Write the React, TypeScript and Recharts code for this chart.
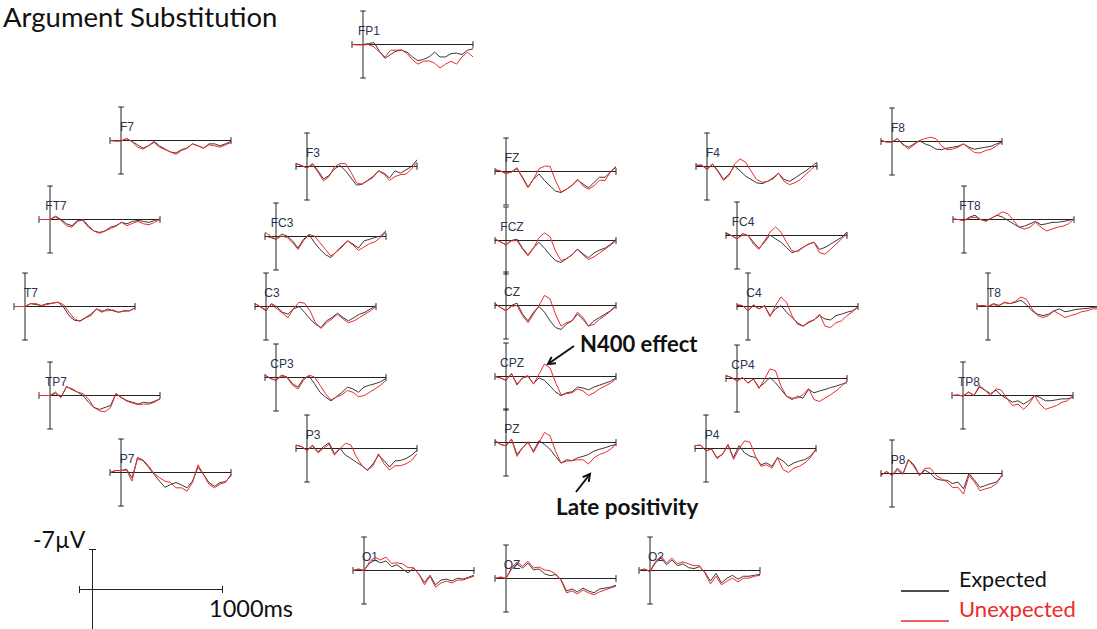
import React from 'react'
import { LineChart, Line, XAxis, YAxis, ReferenceLine } from 'recharts'

// sample times (ms) shared by every channel
const times = [-100, -50, 0, 50, 100, 150, 200, 250, 300, 350, 400, 450, 500, 550, 600, 650, 700, 750, 800, 850, 900, 950, 1000]

// amplitudes in µV (negative plotted up)
const fp1Expected = [0, 0, 0, -0.2, -0.4, 1.4, 2.9, 2.1, 1.4, 1.2, 1.6, 2.6, 3.4, 3.1, 2.6, 1.6, 2.6, 2.6, 1.9, 1.8, 2.1, 1.2, 0.9]
const fp1Unexpected = [0, 0.1, 0.1, 0, 0.5, 1.6, 2.6, 1.2, 1.2, 1.1, 1.9, 3.2, 4.1, 3.5, 3.4, 3.9, 4.9, 4.1, 3.5, 4.1, 2.6, 1.6, 2.6]
const f7Expected = [0, 0.1, 0.1, -0.4, 0.2, 0.9, 1.6, 1.1, 0.2, 1.1, 1.8, 2.4, 2.6, 1.9, 1.6, 0.7, 1.1, 1.6, 0.7, 0.7, 1.1, 0.7, 0.2]
const f7Unexpected = [0, 0.1, 0.1, -0.4, 0.2, 1.4, 1.8, 1.1, 0.4, 1.4, 1.9, 2.4, 2.9, 2.1, 1.6, 0.7, 1.1, 1.6, 0.9, 1.1, 1.4, 0.9, 0.4]
const ft7Expected = [0, 0, 0, -0.7, 0, 0.9, 1.3, 0.2, 0.2, 1.6, 2.4, 2.7, 2.4, 1.6, 1.3, 0.6, 0.9, 0.4, 0.2, 0.4, 0.6, 0.2, -0.1]
const ft7Unexpected = [0, 0, 0, -0.5, 0.2, 1.3, 1.6, 0.4, 0, 1.3, 2.4, 2.9, 2.4, 1.9, 1.4, 0.6, 1.3, 0.8, 0.4, 0.9, 1.1, 0.6, 0]
const t7Expected = [0, 0, 0, -0.6, -0.4, -0.2, -0.6, -0.7, -0.9, 0.1, 1.9, 2.9, 3.0, 2.3, 1.6, 0.5, 1.2, 0.5, 0.9, 1.2, 0.9, 0.9, 0.3]
const t7Unexpected = [0, 0, 0, -0.6, -0.6, -0.2, -0.4, -0.7, -0.9, -0.4, 1.2, 2.6, 3.1, 2.4, 1.9, 0.5, 0.9, 0.9, 0.7, 1.2, 1.0, 0.9, 0.3]
const tp7Expected = [0, 0, 0, -0.7, 0.4, -1.8, -1.4, -0.7, 0, 1.4, 2.5, 2.9, 2.5, 2.1, -0.4, 0.4, 1.1, 1.4, 1.8, 1.4, 1.6, 1.2, 0.7]
const tp7Unexpected = [0, 0, 0, -0.4, 0.4, -1.9, -1.2, -0.7, -0.4, 0.7, 2.5, 3.2, 3.4, 2.5, -0.4, 0.5, 1.2, 1.6, 1.9, 1.8, 1.8, 1.4, 0.7]
const p7Expected = [0, -0.4, -0.4, -0.7, 1.1, -2.9, -2.5, -1.1, 0.4, 1.8, 3.1, 2.5, 2.1, 2.6, 3.2, 1.8, -1.1, 0.4, 2.1, 2.9, 2.1, 1.9, 0.7]
const p7Unexpected = [0, -0.4, -0.4, -0.5, 1.8, -3.2, -2.6, -1.4, 0.2, 1.1, 1.8, 2.1, 3.2, 3.2, 3.9, 2.1, -1.6, 0.4, 2.5, 3.2, 2.4, 2.1, 0.4]
const f3Expected = [-0.6, -0.2, 0.3, -0.6, 0.9, 2.6, 1.9, 0.5, -0.2, 0.9, 2.4, 3.9, 3.7, 2.9, 2.1, 0.9, 1.4, 2.4, 0.9, 1.4, 0.7, 0, -1.4]
const f3Unexpected = [-0.6, -0.2, 0.3, -0.4, 1.2, 3.0, 2.1, 0.1, -0.6, -0.6, 1.2, 3.4, 3.7, 3.0, 2.3, 0.9, 1.6, 2.9, 2.1, 1.7, 1.6, 0.5, -0.9]
const fc3Expected = [-0.1, 0.2, 0.6, -0.5, -0.1, 0.9, 2.4, 0.6, -0.4, 1.3, 2.7, 3.8, 4.4, 3.1, 2.0, 0.9, 1.6, 2.4, 0.9, 0.6, 0.2, -0.1, -1.2]
const fc3Unexpected = [-0.9, -0.1, 0.6, -0.1, 0.2, 1.3, 2.7, 0.9, -0.4, -0.1, 1.3, 2.7, 4.1, 3.2, 2.2, 0.9, 1.8, 2.9, 2.2, 1.5, 1.1, 0.2, -0.9]
const c3Expected = [-0.6, 0.1, 0.9, -0.6, 0.1, 1.2, 1.6, 0.5, 0, 1.2, 2.6, 3.7, 4.4, 3.0, 2.3, 1.4, 2.3, 3.0, 2.3, 1.6, 1.2, 0.5, -0.2]
const c3Unexpected = [-0.6, 0.1, 0.7, -0.4, 0.5, 1.4, 2.3, 0.5, -0.9, -0.7, 0.9, 3.4, 4.6, 3.4, 2.6, 1.6, 2.6, 3.4, 3.0, 2.3, 1.6, 0.9, 0]
const cp3Expected = [-0.5, 0.2, 0.6, -0.5, -0.1, 1.3, 2.0, 0.2, -0.3, 1.3, 3.1, 4.1, 4.9, 4.0, 3.1, 2.0, 2.4, 3.1, 2.0, 1.6, 1.3, 0.9, 0.2]
const cp3Unexpected = [-0.5, 0.2, 0.6, -0.3, 0, 1.6, 2.4, 0.6, -0.5, -0.1, 1.6, 3.4, 4.7, 4.1, 3.6, 2.7, 3.1, 4.0, 3.8, 3.1, 2.4, 1.6, 0.6]
const p3Expected = [-0.7, -0.4, 0.4, -0.7, 0.7, -0.4, -1.2, 1.1, 0, 1.4, 2.1, 2.9, 3.6, 4.5, 3.2, 1.4, 2.5, 3.9, 2.6, 2.5, 2.1, 1.4, 0.4]
const p3Unexpected = [-0.7, -0.4, 0.4, -0.5, 0.9, 0, -0.9, 1.4, 0, -1.1, -0.7, 1.8, 3.6, 4.6, 3.6, 1.1, 3.2, 4.5, 3.6, 3.6, 3.2, 2.5, 1.1]
const fzExpected = [-0.4, -0.1, 0.4, 0.1, -0.6, 1.2, 3.2, 1.6, 0.5, 1.9, 3.0, 4.1, 4.4, 3.7, 2.9, 1.8, 2.6, 3.4, 2.3, 1.2, 1.2, 0.1, -0.9]
const fzUnexpected = [-0.4, -0.1, 0.4, 0.1, -0.8, 1.4, 3.4, 1.6, -0.6, -1.1, -1.1, 1.9, 4.3, 3.7, 2.9, 1.6, 3.0, 3.7, 3.0, 1.8, 1.9, 0.1, -1.1]
const fczExpected = [-0.3, 0.3, 0.9, 0, -0.3, 1.6, 3.0, 1.5, 0.4, 1.6, 3.0, 4.2, 4.6, 3.8, 3.0, 1.8, 2.8, 3.6, 2.6, 2.0, 1.6, 0.8, -0.2]
const fczUnexpected = [-0.3, 0.3, 0.9, 0.1, 0, 1.8, 3.2, 1.6, -0.6, -1.6, -0.8, 2.2, 4.2, 3.8, 3.0, 1.8, 3.0, 4.0, 3.4, 2.6, 1.8, 1.0, 0]
const czExpected = [-0.4, 0.4, 1.1, 0, -0.5, 1.8, 3.2, 1.4, 0.2, 1.4, 3.2, 4.6, 5.0, 3.9, 3.2, 1.8, 2.9, 4.3, 3.2, 2.5, 1.8, 1.1, 0]
const czUnexpected = [-0.4, 0.4, 1.1, 0.2, 0, 2.1, 3.6, 1.8, 0, -2.1, -1.4, 1.8, 4.3, 3.6, 3.2, 1.4, 2.5, 4.3, 3.9, 2.9, 2.1, 1.2, 0.2]
const cpzExpected = [0, 0.3, 0.8, -0.6, 1.6, 0.3, 0, 1.5, 0.3, 0.8, 2.0, 3.2, 4.0, 3.4, 3.2, 2.2, 2.4, 2.8, 2.2, 1.8, 1.4, 1.0, 0.3]
const cpzUnexpected = [0, 0.3, 0.8, -0.6, 1.8, 0.3, -0.2, 1.6, -0.5, -2.6, -1.8, 1.2, 3.8, 3.6, 3.4, 2.6, 3.0, 4.0, 3.4, 2.6, 2.0, 1.4, 0.5]
const pzExpected = [-0.4, 0.4, 0.7, -0.7, 2.5, 1.1, 0, 1.8, -0.4, 0.4, 1.4, 2.9, 4.3, 3.6, 3.8, 3.2, 2.9, 2.5, 1.8, 1.4, 1.1, 0.7, 0.4]
const pzUnexpected = [-0.4, 0.4, 0.7, -0.7, 2.9, 1.1, -0.2, 2.1, 0, -2.1, -1.4, 1.8, 4.3, 3.9, 3.8, 3.6, 3.6, 4.5, 3.2, 2.5, 2.1, 1.4, 0.4]
const f4Expected = [-0.1, -0.3, 0.6, -0.5, 0.9, 2.7, 1.6, -0.1, 0.9, 2.0, 2.7, 3.4, 3.6, 3.1, 2.4, 1.4, 2.7, 3.1, 2.4, 1.6, 0.9, 0, -0.9]
const f4Unexpected = [-0.3, -0.3, 0.6, -0.5, 1.1, 2.9, 1.9, -0.5, -1.6, -0.9, 0.9, 2.7, 3.3, 3.1, 2.6, 1.4, 3.1, 3.8, 3.4, 2.7, 1.6, 0.6, -0.5]
const fc4Expected = [-0.4, 0, 0.7, -0.4, 0, 1.4, 2.7, 1.4, -0.1, 0.7, 1.4, 2.5, 3.6, 3.2, 2.5, 1.8, 1.4, 2.9, 2.5, 1.8, 1.1, 0.4, -0.7]
const fc4Unexpected = [-0.6, 0, 0.7, -0.1, 0, 1.8, 2.9, 1.1, -0.7, -1.8, -0.7, 1.4, 3.2, 3.4, 2.5, 1.8, 1.4, 3.6, 3.9, 2.9, 1.8, 0.7, -0.4]
const c4Expected = [-0.2, -0.2, 0.9, -0.2, 0.5, -0.2, 1.9, 0.5, -0.2, 1.2, 2.3, 3.4, 4.1, 3.4, 2.8, 1.9, 2.6, 2.8, 1.9, 1.6, 1.2, 0.9, 0.1]
const c4Unexpected = [-0.4, -0.2, 0.9, -0.4, 0.5, -0.1, 2.1, -0.2, -2.0, -0.9, 1.9, 3.7, 4.1, 3.2, 2.8, 1.6, 4.1, 4.4, 3.4, 3.0, 1.9, 1.1, 0.1]
const cp4Expected = [-0.6, -0.2, 0.5, -0.2, 0.9, 0.1, 1.9, 0.9, -0.2, 0.9, 2.3, 3.7, 4.4, 3.7, 4.1, 2.3, 3.0, 2.6, 2.3, 1.9, 1.6, 1.2, 0.9]
const cp4Unexpected = [-0.6, -0.2, 0.5, -0.2, 1.0, 0.1, 2.1, 0.1, -2.0, -1.6, 1.6, 3.7, 4.1, 4.1, 3.4, 2.1, 4.4, 4.8, 4.1, 3.4, 2.6, 1.6, 0.5]
const p4Expected = [-0.6, -0.7, 0.5, 0.1, 1.9, 1.2, -0.7, 1.9, -0.6, 0.9, 1.6, 1.9, 3.4, 3.0, 3.7, 1.9, 2.6, 3.7, 3.0, 2.6, 2.3, 1.6, 0.1]
const p4Unexpected = [-0.6, -0.7, 0.5, 0.1, 2.1, 1.2, -0.9, 2.3, 0.1, -1.6, -1.3, 1.6, 3.7, 3.4, 4.1, 1.9, 4.4, 5.0, 4.1, 3.7, 3.0, 1.9, 0.1]
const f8Expected = [-0.2, 0.1, 0.1, -0.6, 0.7, 1.2, 0.5, -0.2, 0.5, 0.9, 1.6, 1.7, 1.4, 1.2, 1.0, 0.5, 1.2, 1.6, 1.4, 1.2, 1.0, 0.5, 0.1]
const f8Unexpected = [-0.2, 0.1, 0.1, -0.6, 0.5, 1.6, 0.7, -0.2, -0.6, -0.9, -0.6, 0.9, 1.7, 1.6, 1.2, 0.5, 1.4, 2.3, 2.4, 1.9, 1.6, 0.9, 0.1]
const ft8Expected = [-0.1, 0, 0.2, -0.5, -0.9, 0, 0.2, -0.3, -0.9, -0.5, 0.2, 0.9, 1.6, 1.4, 0.9, 0.4, 1.1, 0.9, 0.6, 0.6, 0.4, 0.2, -0.1]
const ft8Unexpected = [-0.1, 0, 0.2, -0.3, -0.5, 0, 0.4, -0.3, -0.9, -1.6, -1.2, 0.2, 1.6, 2.0, 1.6, 0.6, 1.6, 2.4, 2.0, 1.6, 1.4, 0.9, -0.1]
const t8Expected = [-0.1, -0.2, 0, -0.6, -0.2, -0.8, -0.6, -0.9, -1.3, -0.4, 0.9, 1.6, 1.9, 1.6, 0.9, 0.5, 1.1, 0.9, 0.6, 0.5, 0.4, 0.2, 0.1]
const t8Unexpected = [-0.1, -0.2, 0, -0.4, -0.2, -0.9, -0.6, -1.1, -2.0, -1.5, 0.5, 1.9, 2.3, 1.9, 0.9, 1.6, 2.3, 1.9, 1.6, 1.1, 0.9, 0.5, 0.5]
const tp8Expected = [0, -0.1, 0.1, -0.7, 0, -1.8, -1.1, -0.4, -1.1, 0, 0.7, 1.4, 1.1, 1.8, 1.1, 0, 0.4, 1.1, 1.1, 0.9, 0.7, 0.7, 0.4]
const tp8Unexpected = [0, -0.1, 0.1, -0.7, 0, -2.1, -1.1, 0, -1.4, -1.1, 0.7, 2.1, 1.8, 2.9, 1.8, 0, 1.8, 2.9, 2.5, 2.1, 1.4, 1.1, 0]
const p8Expected = [0.4, -0.4, 0.4, -1.1, 0, -2.9, -1.8, 0.4, -0.7, 0, 1.1, 1.4, 1.4, 2.1, 1.8, 3.2, 0, 1.4, 2.9, 2.5, 2.1, 1.8, 0.4]
const p8Unexpected = [0.4, -0.4, 0.4, -0.7, 0.2, -2.9, -1.4, 0.4, -1.1, -1.1, 0.4, 1.1, 1.8, 2.9, 2.9, 4.3, 0.4, 1.8, 3.6, 3.2, 2.9, 2.1, 0.4]
const o1Expected = [0, -0.3, 0, -1.5, -2.2, -1.6, -2.0, -0.8, -1.2, -0.3, 0.5, -0.5, 0.8, 2.5, 1.0, 3.0, 2.0, 1.8, 2.2, 1.6, 1.8, 1.4, 1.0]
const o1Unexpected = [0, -0.3, 0, -1.8, -2.8, -2.2, -2.8, -1.5, -1.6, -1.4, -0.6, -0.6, 0.8, 3.0, 1.2, 3.5, 2.6, 2.2, 2.6, 2.0, 2.0, 1.6, 1.2]
const ozExpected = [0, -0.3, 0, -2.0, -3.0, -2.2, -3.2, -1.8, -2.0, -1.0, -0.6, -0.8, 0.2, 2.6, 2.2, 2.8, 2.0, 2.6, 3.0, 2.2, 2.0, 1.8, 1.4]
const ozUnexpected = [0, -0.3, 0, -2.3, -3.4, -2.6, -3.6, -2.2, -2.4, -1.8, -1.6, -1.0, 0.4, 3.0, 2.6, 3.2, 2.4, 3.0, 3.4, 2.8, 2.4, 2.0, 1.6]
const o2Expected = [0, -0.3, 0.2, -1.6, -2.6, -1.2, -2.2, -1.0, -1.4, -0.6, -0.4, -0.8, 0.4, 2.2, 0.6, 2.6, 1.6, 1.0, 1.8, 1.2, 1.2, 1.0, 0.8]
const o2Unexpected = [0, -0.3, 0.2, -1.9, -3.0, -1.6, -2.6, -1.4, -1.8, -1.4, -1.0, -1.0, 0.6, 2.8, 1.2, 3.0, 2.2, 1.6, 2.4, 1.6, 1.6, 1.2, 1.0]

// channel name, x of the 0 ms line, y of the 0 µV line (page px)
const layout: [string, number, number, number[], number[]][] = [
  ['FP1', 363, 44, fp1Expected, fp1Unexpected],
  ['F7', 121, 140, f7Expected, f7Unexpected],
  ['FT7', 50, 219, ft7Expected, ft7Unexpected],
  ['T7', 25, 306, t7Expected, t7Unexpected],
  ['TP7', 50, 395, tp7Expected, tp7Unexpected],
  ['P7', 121, 472, p7Expected, p7Unexpected],
  ['F3', 307, 166, f3Expected, f3Unexpected],
  ['FC3', 276, 236, fc3Expected, fc3Unexpected],
  ['C3', 266, 306, c3Expected, c3Unexpected],
  ['CP3', 276, 377, cp3Expected, cp3Unexpected],
  ['P3', 307, 448, p3Expected, p3Unexpected],
  ['FZ', 506, 171, fzExpected, fzUnexpected],
  ['FCZ', 506, 240, fczExpected, fczUnexpected],
  ['CZ', 506, 305, czExpected, czUnexpected],
  ['CPZ', 506, 376, cpzExpected, cpzUnexpected],
  ['PZ', 506, 442, pzExpected, pzUnexpected],
  ['F4', 707, 166, f4Expected, f4Unexpected],
  ['FC4', 737, 235, fc4Expected, fc4Unexpected],
  ['C4', 748, 306, c4Expected, c4Unexpected],
  ['CP4', 737, 378, cp4Expected, cp4Unexpected],
  ['P4', 706, 448, p4Expected, p4Unexpected],
  ['F8', 892, 141, f8Expected, f8Unexpected],
  ['FT8', 964, 219, ft8Expected, ft8Unexpected],
  ['T8', 988, 306, t8Expected, t8Unexpected],
  ['TP8', 963, 395, tp8Expected, tp8Unexpected],
  ['P8', 892, 473, p8Expected, p8Unexpected],
  ['O1', 364, 570, o1Expected, o1Unexpected],
  ['OZ', 506, 578, ozExpected, ozUnexpected],
  ['O2', 650, 570, o2Expected, o2Unexpected],
]

const PRE = 11 // px for -100..0 ms
const W = 121
const H = 67
const PAD = 4
const AXIS = '#222'
const BLACK = '#3a3a3a'
const RED = '#ee2a2a'

function Panel({ x0, y0, expected, unexpected }: { x0: number; y0: number; expected: number[]; unexpected: number[] }) {
  const data = times.map((t, i) => ({ t, expected: expected[i], unexpected: unexpected[i] }))
  return (
    <div style={{ position: 'absolute', left: x0 - PRE - PAD, top: Math.round(y0 - H / 2) - PAD }}>
      <LineChart width={W + 2 * PAD} height={H + 2 * PAD} data={data} margin={{ top: PAD, right: PAD, bottom: PAD, left: PAD }}>
        <XAxis type="number" dataKey="t" domain={[-100, 1000]} hide />
        <YAxis type="number" domain={[-7, 7]} reversed hide />
        <ReferenceLine y={0} stroke={AXIS} ifOverflow="visible" />
        <ReferenceLine x={0} stroke={AXIS} ifOverflow="visible" />
        <ReferenceLine segment={[{ x: -100, y: -0.7 }, { x: -100, y: 0.7 }]} stroke={AXIS} ifOverflow="visible" />
        <ReferenceLine segment={[{ x: 1000, y: -0.7 }, { x: 1000, y: 0.7 }]} stroke={AXIS} ifOverflow="visible" />
        <ReferenceLine segment={[{ x: -25, y: -7 }, { x: 25, y: -7 }]} stroke={AXIS} ifOverflow="visible" />
        <ReferenceLine segment={[{ x: -25, y: 7 }, { x: 25, y: 7 }]} stroke={AXIS} ifOverflow="visible" />
        <Line type="linear" dataKey="expected" stroke={BLACK} strokeWidth={1} dot={false} isAnimationActive={false} />
        <Line type="linear" dataKey="unexpected" stroke={RED} strokeWidth={1} dot={false} isAnimationActive={false} />
      </LineChart>
    </div>
  )
}

function arrow(x1: number, y1: number, x2: number, y2: number) {
  const a = Math.atan2(y2 - y1, x2 - x1)
  const L = 8
  const p1 = [x2 - L * Math.cos(a - 0.5), y2 - L * Math.sin(a - 0.5)]
  const p2 = [x2 - L * Math.cos(a + 0.5), y2 - L * Math.sin(a + 0.5)]
  return (
    <g stroke="#111" strokeWidth={2} fill="none">
      <line x1={x1} y1={y1} x2={x2} y2={y2} />
      <polyline points={`${p1[0]},${p1[1]} ${x2},${y2} ${p2[0]},${p2[1]}`} />
    </g>
  )
}

export default function App() {
  const font = 'Lato, "Open Sans", sans-serif'
  return (
    <div style={{ position: 'fixed', left: 0, top: 0, width: 1097, height: 629, background: '#fff', overflow: 'hidden' }}>
      <svg width={1097} height={629} style={{ position: 'absolute', left: 0, top: 0 }}>
        <text x={3} y={27} fontFamily={font} fontSize={27.5} fill="#111">Argument Substitution</text>
        {layout.map(([name, x0, y0]) => (
          <text key={name} x={x0 + 6} y={y0 - 9} textAnchor="middle" fontFamily='"Liberation Sans", Arial, sans-serif' fontSize={12} fill="#2a3550">
            {name}
          </text>
        ))}
        {/* scale bar */}
        <g stroke={AXIS} strokeWidth={1}>
          <line x1={92.5} y1={549} x2={92.5} y2={629} />
          <line x1={89} y1={549.5} x2={96} y2={549.5} />
          <line x1={79} y1={589.5} x2={222} y2={589.5} />
          <line x1={79.5} y1={586} x2={79.5} y2={593} />
          <line x1={222.5} y1={586} x2={222.5} y2={593} />
        </g>
        <text x={33} y={548} fontFamily={font} fontSize={23} fill="#111">-7µV</text>
        <text x={209} y={617} fontFamily={font} fontSize={23.5} fill="#111">1000ms</text>
        <text x={580} y={352} fontFamily={font} fontSize={22} fontWeight={700} fill="#111">N400 effect</text>
        <text x={556} y={515} fontFamily={font} fontSize={22.5} fontWeight={700} fill="#111">Late positivity</text>
        {arrow(574, 346, 548, 364)}
        {arrow(576, 492, 590, 474)}
        <line x1={901} y1={591} x2={949} y2={591} stroke="#111" strokeWidth={1.5} />
        <text x={959} y={587} fontFamily={font} fontSize={21.5} fill="#111">Expected</text>
        <line x1={901} y1={621} x2={949} y2={621} stroke={RED} strokeWidth={1.5} />
        <text x={959} y={617} fontFamily={font} fontSize={22} fill={RED}>Unexpected</text>
      </svg>
      {layout.map(([name, x0, y0, e, u]) => (
        <Panel key={name} x0={x0} y0={y0} expected={e} unexpected={u} />
      ))}
    </div>
  )
}
